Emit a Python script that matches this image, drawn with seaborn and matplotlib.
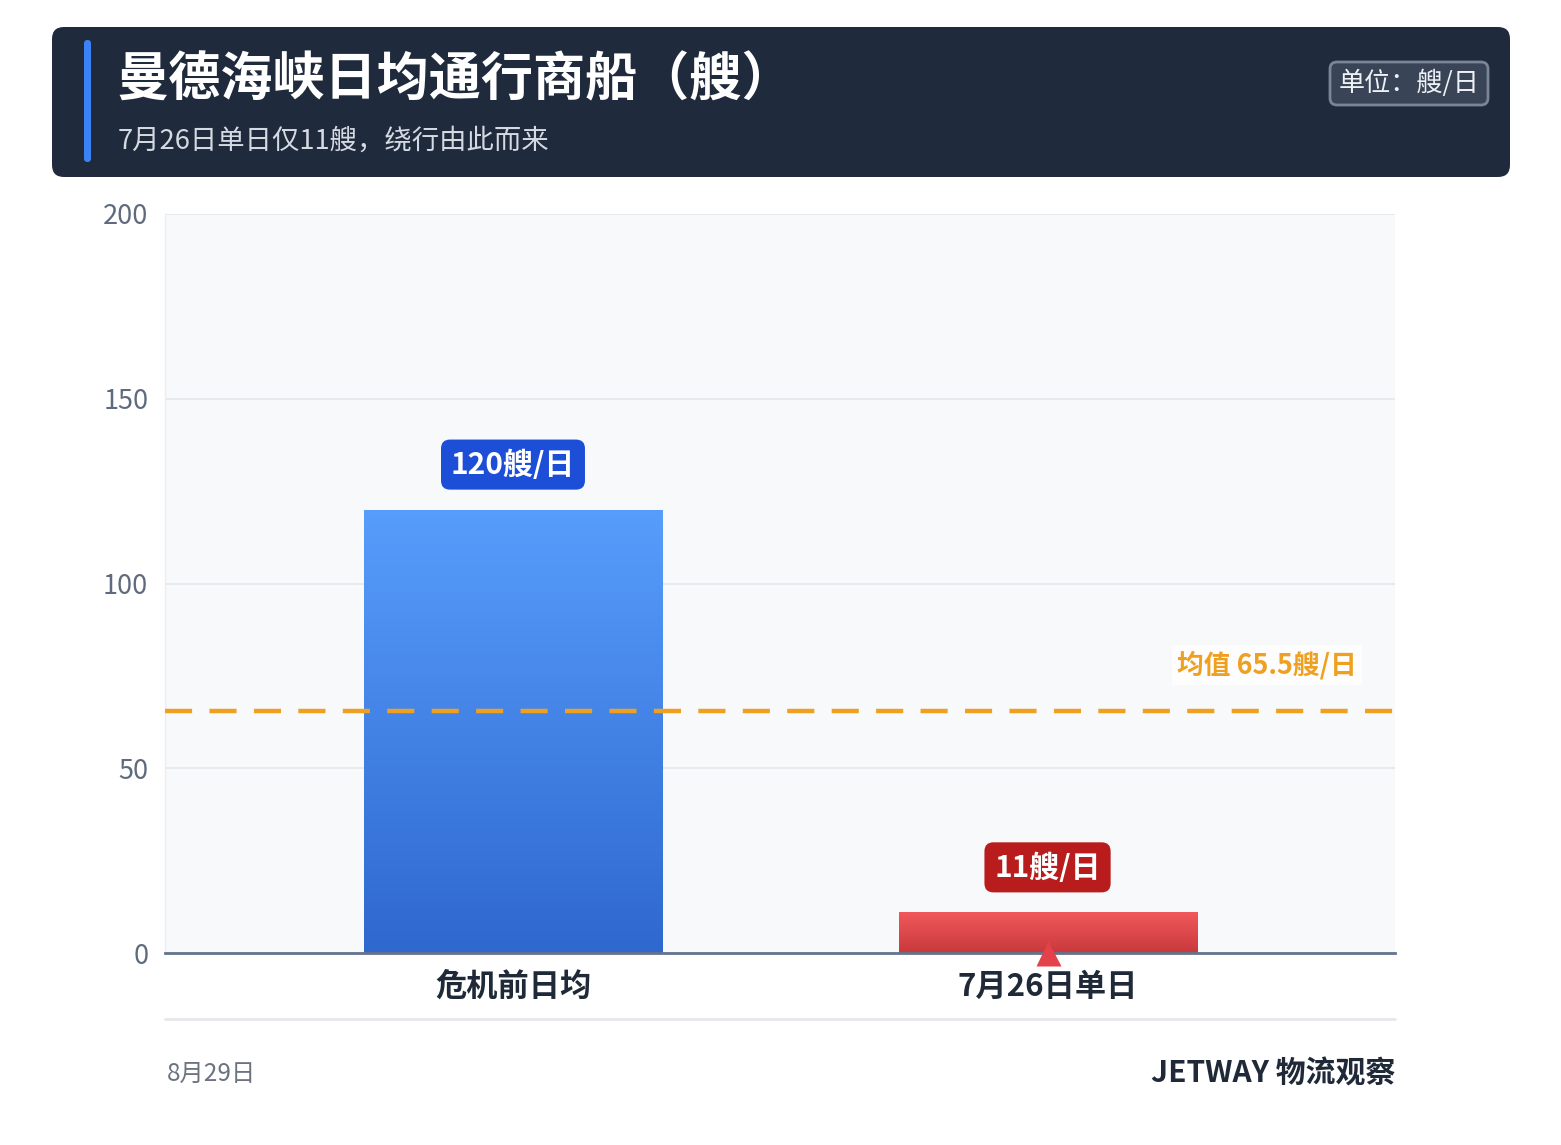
import numpy as np
import pandas as pd
import matplotlib
matplotlib.use("Agg")
import matplotlib.pyplot as plt
import seaborn as sns
from matplotlib.patches import FancyBboxPatch
from matplotlib.colors import LinearSegmentedColormap

# data
categories = ["危机前日均", "7月26日单日"]
values = [120, 11]
bar_labels = ["120艘/日", "11艘/日"]
mean_value = np.mean(values)  # 65.5
yticks = [0, 50, 100, 150, 200]

title = "曼德海峡日均通行商船（艘）"
subtitle = "7月26日单日仅11艘，绕行由此而来"
unit_text = "单位：艘/日"
date_text = "8月29日"
brand_text = "JETWAY 物流观察"

sns.set_theme(style="white")
plt.rcParams['font.family'] = ['Noto Sans CJK SC', 'DejaVu Sans']

W, H = 1561, 1145
fig = plt.figure(figsize=(W / 100, H / 100), dpi=100)
fig.patch.set_facecolor("white")

# background axes in pixel units for header / footer
bg = fig.add_axes([0, 0, 1, 1], zorder=0)
bg.set_xlim(0, W)
bg.set_ylim(H, 0)
bg.axis("off")

bg.add_patch(FancyBboxPatch((52, 27), 1458, 150, boxstyle="round,pad=0,rounding_size=12",
                            fc="#1f2a3c", ec="none"))
bg.add_patch(FancyBboxPatch((84, 40), 7, 122, boxstyle="round,pad=0,rounding_size=3.5",
                            fc="#3b82f6", ec="none"))
bg.text(116, 80, title, color="white", fontsize=37.5, fontweight="heavy", va="center", ha="left")
bg.text(118, 141, subtitle, color="#d5dae2", fontsize=19.7, va="center", ha="left")
bg.add_patch(FancyBboxPatch((1330, 62), 158, 43, boxstyle="round,pad=0,rounding_size=7",
                            fc="#394456", ec="#7b8596", lw=2))
bg.text(1409, 83, unit_text, color="#eef1f5", fontsize=18.8, va="center", ha="center")

bg.plot([165, 1395], [1019, 1019], color="#e5e7eb", lw=2)
bg.text(167, 1074, date_text, color="#6b7280", fontsize=17.5, va="center", ha="left")
bg.text(1395, 1074, brand_text, color="#1f2937", fontsize=21.5, fontweight="bold",
        va="center", ha="right")

# main chart
ax = fig.add_axes([165 / W, 1 - 953 / H, 1230 / W, 739 / H], zorder=1)
ax.set_facecolor("#f8f9fb")

df = pd.DataFrame({"cat": categories, "val": values})
sns.barplot(data=df, x="cat", y="val", hue="cat", palette=["#4a8ef0", "#e04a4d"],
            width=0.5575, legend=False, ax=ax, zorder=3)

grads = [("#579dfc", "#2f68cf"), ("#f1585b", "#c8393c")]
for patch, (top, bot) in zip(ax.patches, grads):
    x0, y0 = patch.get_x(), patch.get_y()
    w, h = patch.get_width(), patch.get_height()
    cmap = LinearSegmentedColormap.from_list("g", [bot, top])
    im = ax.imshow(np.linspace(0, 1, 256).reshape(-1, 1), cmap=cmap, aspect="auto",
                   extent=[x0, x0 + w, y0, y0 + h], origin="lower", zorder=3)
    im.set_clip_path(patch)
    patch.set_alpha(0)

ax.set_xlim(-0.651, 1.650)
ax.set_ylim(0, 200)
ax.set_yticks(yticks)
ax.grid(axis="y", color="#e3e6eb", lw=1.2, zorder=0)
ax.set_axisbelow(True)
ax.set_xlabel("")
ax.set_ylabel("")
for s in ["top", "right"]:
    ax.spines[s].set_visible(False)
ax.spines["left"].set_color("#eceef2")
ax.spines["left"].set_linewidth(1)
ax.spines["bottom"].set_color("#64748b")
ax.spines["bottom"].set_linewidth(2)
ax.spines["bottom"].set_zorder(5)
ax.tick_params(axis="y", length=0, pad=12, labelsize=19.5, labelcolor="#5f6b7d")
ax.tick_params(axis="x", length=0, pad=13, labelsize=22.5, labelcolor="#1f2937")
for t in ax.get_xticklabels():
    t.set_fontweight("bold")

# value labels
box_colors = ["#1d4ed8", "#b91c1c"]
for i, (v, lab) in enumerate(zip(values, bar_labels)):
    ax.annotate(lab, (i, v), xytext=(0, 32.4), textcoords="offset points",
                ha="center", va="center", color="white", fontsize=21.5, fontweight="bold",
                bbox=dict(boxstyle="round,pad=0.33,rounding_size=0.3", fc=box_colors[i], ec="none"),
                zorder=6)

# marker on the low bar
ax.plot([1], [0], marker="^", ms=18, color="#e5414a", mec="none", clip_on=False, zorder=7)

# mean line
ax.axhline(mean_value, color="#f0a020", lw=3.2, ls=(0, (6.1, 3.9)), zorder=4)
ax.annotate(f"均值 {mean_value:g}艘/日", (0.969, mean_value), xycoords=("axes fraction", "data"),
            xytext=(0, 33), textcoords="offset points", ha="right", va="center",
            color="#f0a020", fontsize=19.3, fontweight="bold",
            bbox=dict(boxstyle="square,pad=0.2", fc="white", ec="none", alpha=0.8), zorder=6)

fig.savefig("out.png", dpi=100)
